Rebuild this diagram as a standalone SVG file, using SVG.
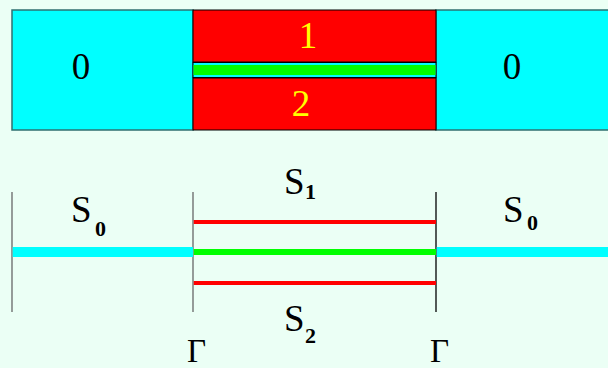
<svg xmlns="http://www.w3.org/2000/svg" width="608" height="368" viewBox="0 0 608 368">
<style>
.t{font-family:"Liberation Serif","Times New Roman",serif;}
.big{font-size:37px;}
.g{font-size:33px;}
.s{font-size:37px;}
.sub{font-size:22px;font-weight:bold;}
.vl{stroke-width:1.3;}
</style>
<rect width="608" height="368" fill="#EBFFF5"/>
<g id="top">
  <g id="region0left">
    <rect x="12" y="10" width="181" height="120" fill="#00FFFF" stroke="#2F7070" stroke-width="1.5"/>
    <text class="t big" x="81" y="79" text-anchor="middle" fill="#000">0</text>
  </g>
  <g id="region0right">
    <rect x="436" y="10" width="180" height="120" fill="#00FFFF" stroke="#2F7070" stroke-width="1.5"/>
    <text class="t big" x="512" y="79" text-anchor="middle" fill="#000">0</text>
  </g>
  <g id="region1">
    <rect x="193" y="10" width="243" height="52" fill="#FF0000" stroke="#000" stroke-width="1"/>
    <text class="t big" x="308" y="48" text-anchor="middle" fill="#FFFF00">1</text>
  </g>
  <g id="region2">
    <rect x="193" y="78" width="243" height="52" fill="#FF0000" stroke="#000" stroke-width="1"/>
    <text class="t big" x="301" y="116" text-anchor="middle" fill="#FFFF00">2</text>
  </g>
  <g id="interface">
    <rect x="193" y="62.5" width="243" height="15" fill="#00FFFF" stroke="#000" stroke-width="1"/>
    <rect x="193.5" y="65" width="242" height="10" fill="#00FF00"/>
  </g>
</g>
<g id="connectors">
  <line x1="12" y1="192" x2="12" y2="312" stroke="#666" class="vl"/>
  <line x1="193" y1="192" x2="193" y2="312" stroke="#666" class="vl"/>
  <line x1="436" y1="192" x2="436" y2="312" stroke="#000" class="vl"/>
  <line x1="12.7" y1="252" x2="193" y2="252" stroke="#00FFFF" stroke-width="10"/>
  <line x1="436.7" y1="252" x2="608" y2="252" stroke="#00FFFF" stroke-width="10"/>
  <line x1="193.7" y1="252" x2="436" y2="252" stroke="#00FF00" stroke-width="6"/>
  <line x1="193.7" y1="222" x2="436" y2="222" stroke="#FF0000" stroke-width="4"/>
  <line x1="193.7" y1="283" x2="436" y2="283" stroke="#FF0000" stroke-width="4"/>
</g>
<g id="labels">
  <g id="S0left"><text class="t s" x="71" y="222">S</text><text class="t sub" x="95" y="236">0</text></g>
  <g id="S0right"><text class="t s" x="503" y="222">S</text><text class="t sub" x="527" y="230">0</text></g>
  <g id="S1"><text class="t s" x="284" y="194">S</text><text class="t sub" x="305" y="199">1</text></g>
  <g id="S2"><text class="t s" x="284" y="331">S</text><text class="t sub" x="305" y="343">2</text></g>
  <g id="Gamma1"><text class="t g" x="187" y="362">Γ</text></g>
  <g id="Gamma2"><text class="t g" x="430" y="362">Γ</text></g>
</g>
</svg>
